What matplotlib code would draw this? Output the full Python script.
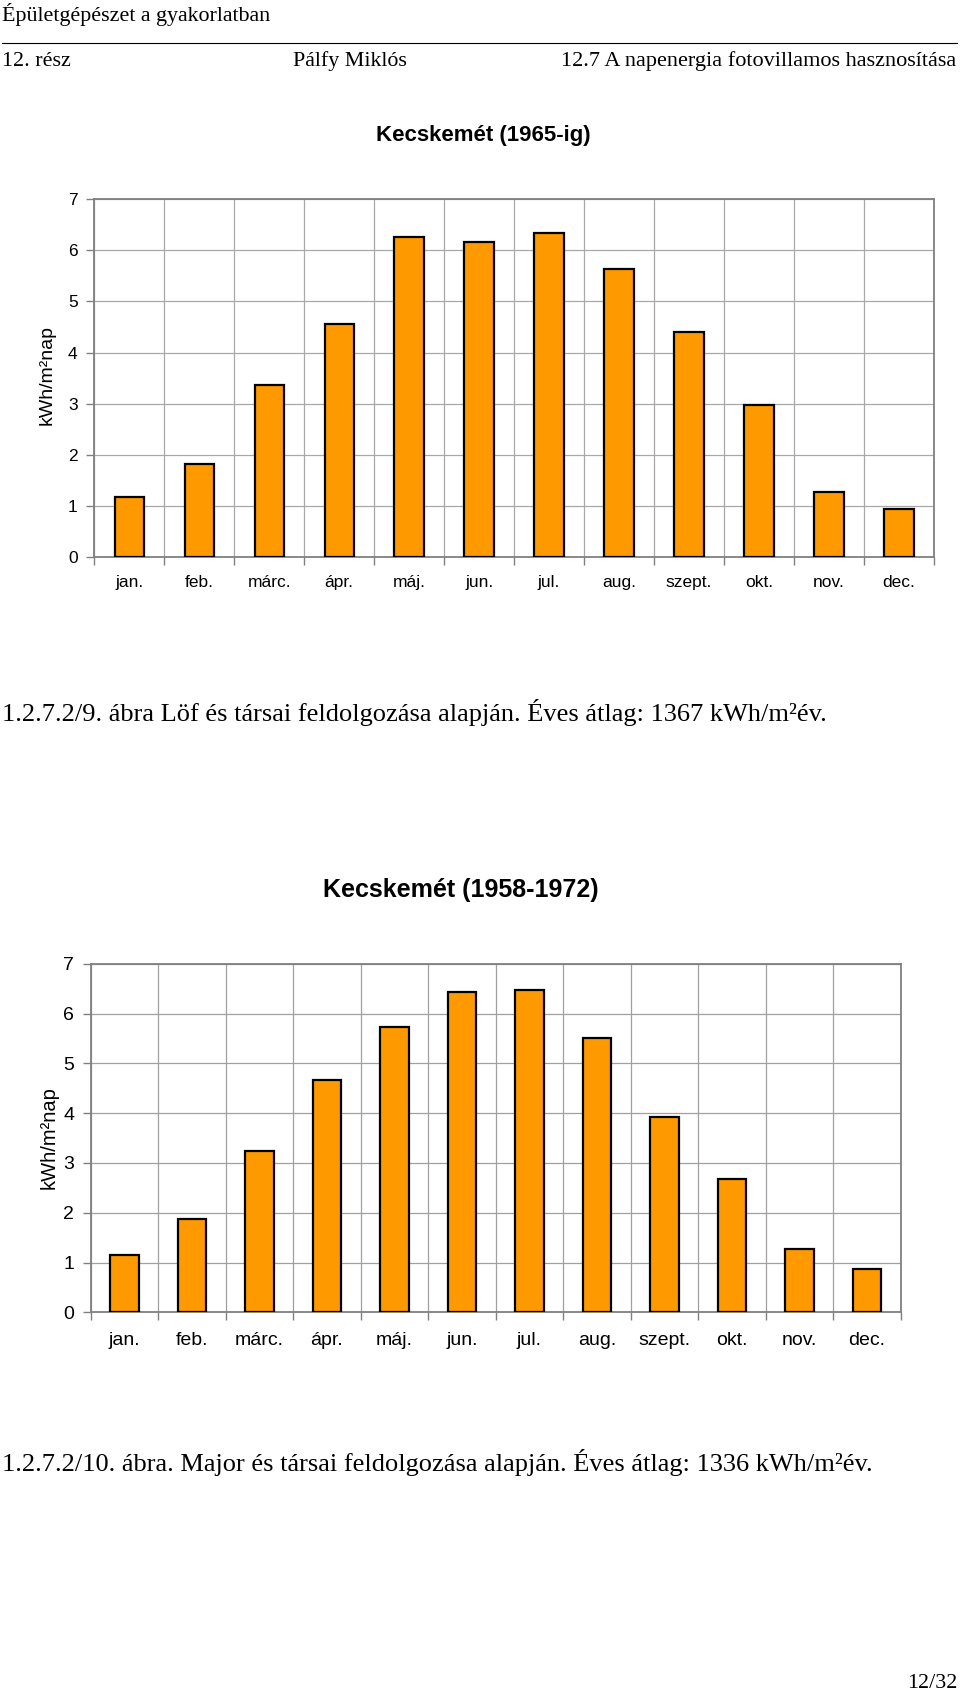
import matplotlib
matplotlib.use("Agg")
import matplotlib.pyplot as plt
from matplotlib.ticker import FixedLocator, NullFormatter

months = ["jan.", "feb.", "márc.", "ápr.", "máj.", "jun.", "jul.", "aug.",
          "szept.", "okt.", "nov.", "dec."]
values_1965 = [1.18, 1.82, 3.37, 4.55, 6.25, 6.16, 6.34, 5.64, 4.40, 2.97, 1.28, 0.94]
values_1958_1972 = [1.16, 1.88, 3.24, 4.66, 5.72, 6.44, 6.48, 5.50, 3.92, 2.67, 1.27, 0.86]
title_1 = "Kecskemét (1965-ig)"
title_2 = "Kecskemét (1958-1972)"
ylabel = "kWh/m²nap"
yticks = [0, 1, 2, 3, 4, 5, 6, 7]

SERIF = ["Liberation Serif", "DejaVu Serif"]
SANS = ["Liberation Sans", "DejaVu Sans"]

fig = plt.figure(figsize=(9.6, 16.96), dpi=100)
W, H = 960, 1696


def fx(px):
    return px / W


def fy(py):
    return 1 - py / H


# Page header
fig.text(fx(2), fy(15), "Épületgépészet a gyakorlatban", family=SERIF, fontsize=15.8,
         va="center", ha="left")
fig.add_artist(plt.Line2D([fx(2), fx(957)], [fy(43), fy(43)], color="black", lw=0.8))
fig.text(fx(2), fy(61), "12. rész", family=SERIF, fontsize=15.8, va="center", ha="left")
fig.text(fx(293), fy(61), "Pálfy Miklós", family=SERIF, fontsize=15.8, va="center", ha="left")
fig.text(fx(956), fy(61), "12.7 A napenergia fotovillamos hasznosítása", family=SERIF,
         fontsize=16, va="center", ha="right")


def draw_chart(rect, vals, fsize, lab_pad, grid_col):
    ax = fig.add_axes(rect)
    x = list(range(1, len(months) + 1))
    ax.bar(x, vals, width=0.42, color="#FF9900", edgecolor="black", linewidth=1.6, zorder=3)
    ax.set_xlim(0.5, len(months) + 0.5)
    ax.set_ylim(0, 7)
    ax.set_yticks(yticks)
    ax.xaxis.set_major_locator(FixedLocator([i + 0.5 for i in range(len(months) + 1)]))
    ax.xaxis.set_major_formatter(NullFormatter())
    ax.xaxis.set_minor_locator(FixedLocator(x))
    ax.set_xticklabels(months, minor=True)
    ax.tick_params(axis="x", which="major", length=6, color="#808080", width=1)
    ax.tick_params(axis="x", which="minor", length=0, pad=lab_pad, labelsize=fsize)
    ax.tick_params(axis="y", length=6, color="#808080", width=1, pad=6, labelsize=fsize)
    for t in ax.get_xticklabels(minor=True) + ax.get_yticklabels():
        t.set_family(SANS)
    ax.grid(True, which="major", color=grid_col, lw=0.9, zorder=0)
    ax.set_axisbelow(True)
    for s in ax.spines.values():
        s.set_color("#808080")
        s.set_linewidth(1.3)
    return ax


ax1 = draw_chart([fx(94.3), fy(557.3), fx(934 - 94.3), (557.3 - 199) / H],
                 values_1965, 12.5, 13, "#a8a8a8")
fig.text(fx(483), fy(136), title_1, family=SANS, fontsize=16, weight="bold",
         ha="center", va="center")
fig.text(fx(47), fy(375), ylabel, family=SANS, fontsize=14, rotation=90,
         ha="center", va="center")

fig.text(fx(2), fy(713), "1.2.7.2/9. ábra Löf és társai feldolgozása alapján. Éves átlag: 1367 kWh/m²év.",
         family=SERIF, fontsize=19, ha="left", va="center")

ax2 = draw_chart([fx(90.7), fy(1312.3), fx(900.7 - 90.7), (1312.3 - 963.7) / H],
                 values_1958_1972, 14, 14, "#a0a0a0")
fig.text(fx(461), fy(890), title_2, family=SANS, fontsize=18, weight="bold",
         ha="center", va="center")
fig.text(fx(49), fy(1138), ylabel, family=SANS, fontsize=14.5, rotation=90,
         ha="center", va="center")

fig.text(fx(2), fy(1462), "1.2.7.2/10. ábra. Major és társai feldolgozása alapján. Éves átlag: 1336 kWh/m²év.",
         family=SERIF, fontsize=19, ha="left", va="center")

fig.text(fx(957), fy(1684), "12/32", family=SERIF, fontsize=15.8, ha="right", va="center")

fig.savefig("out.png", dpi=100, facecolor="white")
